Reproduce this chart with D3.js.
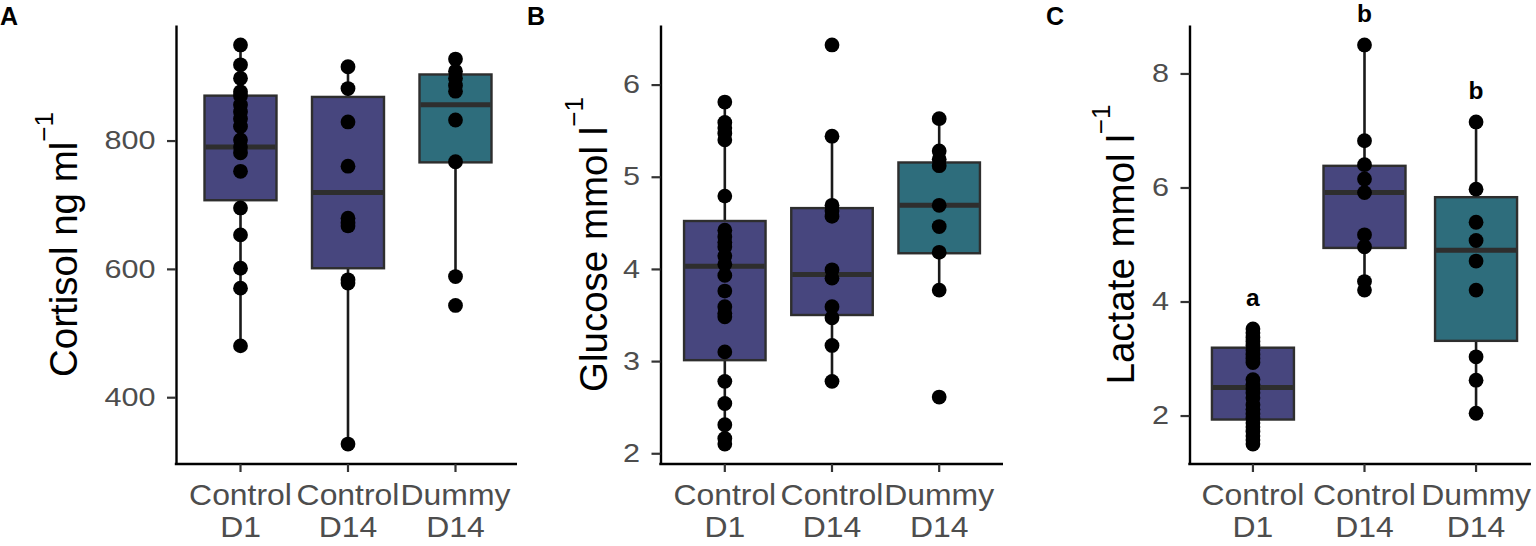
<!DOCTYPE html>
<html>
<head>
<meta charset="utf-8">
<script src="https://cdn.jsdelivr.net/npm/d3@7"></script>
<style>
  html, body { margin: 0; padding: 0; background: #fff; }
  svg { display: block; font-family: "Liberation Sans", Arial, Helvetica, sans-serif; }
</style>
</head>
<body>
<div id="chart"></div>
<script>
// groups (tick labels, two lines each)
const groupLine1 = ["Control", "Control", "Dummy"];
const groupLine2 = ["D1", "D14", "D14"];
const groupFill = ["#47467e", "#47467e", "#2e6d7c"];

// A: cortisol, ng/ml
const cortisolPoints = [
  [949, 918, 897, 876, 870, 856, 845, 834, 822, 801, 790, 781, 752, 695, 653, 601, 570, 480],
  [915, 881, 829, 760, 679, 672, 667, 583, 578, 327],
  [927, 908, 897, 886, 877, 832, 767, 588, 543]
];
const cortisolQ1 = [707, 601, 766];
const cortisolMedian = [790, 719, 856];
const cortisolQ3 = [870, 868, 903];
const cortisolLow = [480, 327, 588];
const cortisolHigh = [949, 915, 927];
const cortisolTicks = [400, 600, 800];

// B: glucose, mmol/l
const glucosePoints = [
  [5.81, 5.59, 5.53, 5.47, 5.40, 4.79, 4.42, 4.35, 4.29, 4.24, 4.14, 4.05, 3.93, 3.76, 3.59, 3.52, 3.48, 3.10, 2.78, 2.54, 2.31, 2.16, 2.10],
  [6.43, 5.44, 4.69, 4.63, 4.57, 3.99, 3.90, 3.59, 3.47, 3.17, 2.78],
  [5.63, 5.28, 5.19, 5.12, 4.69, 4.46, 4.18, 3.77, 2.61]
];
const glucoseQ1 = [3.01, 3.50, 4.17];
const glucoseMedian = [4.03, 3.94, 4.69];
const glucoseQ3 = [4.52, 4.66, 5.155];
const glucoseLow = [2.10, 2.78, 3.77];
const glucoseHigh = [5.81, 5.44, 5.63];
const glucoseTicks = [2, 3, 4, 5, 6];

// C: lactate, mmol/l
const lactatePoints = [
  [3.52, 3.45, 3.37, 3.30, 3.23, 3.15, 3.07, 3.00, 2.93, 2.63, 2.55, 2.47, 2.40, 2.31, 2.19, 2.11, 2.03, 1.95, 1.87, 1.80, 1.72, 1.64, 1.57, 1.50],
  [8.50, 6.82, 6.40, 6.15, 5.91, 5.17, 4.96, 4.35, 4.20],
  [7.15, 5.97, 5.39, 5.07, 4.71, 4.20, 3.03, 2.62, 2.04]
];
const lactateQ1 = [1.93, 4.94, 3.31];
const lactateMedian = [2.49, 5.91, 4.90];
const lactateQ3 = [3.19, 6.38, 5.83];
const lactateLow = [1.50, 4.20, 2.04];
const lactateHigh = [3.52, 8.50, 7.15];
const lactateTicks = [2, 4, 6, 8];
const lactateLetters = ["a", "b", "b"];

const W = 1536, H = 546;
const plotTop = 25, plotBottom = 464;

const svg = d3.select("#chart").append("svg")
    .attr("width", W)
    .attr("height", H);

const panels = [
  { tag: "A", tagX: 0, title: "Cortisol ng ml", titleX: 77,
    left: 176, right: 517, catRange: [176, 520], boxW: 72,
    points: cortisolPoints, q1: cortisolQ1, med: cortisolMedian, q3: cortisolQ3,
    lo: cortisolLow, hi: cortisolHigh, ticks: cortisolTicks },
  { tag: "B", tagX: 527, title: "Glucose mmol l", titleX: 607,
    left: 660.5, right: 1003, catRange: [660.5, 1003.5], boxW: 81.5,
    points: glucosePoints, q1: glucoseQ1, med: glucoseMedian, q3: glucoseQ3,
    lo: glucoseLow, hi: glucoseHigh, ticks: glucoseTicks },
  { tag: "C", tagX: 1046, title: "Lactate mmol l", titleX: 1134,
    left: 1189.5, right: 1531, catRange: [1186, 1543], boxW: 82,
    points: lactatePoints, q1: lactateQ1, med: lactateMedian, q3: lactateQ3,
    lo: lactateLow, hi: lactateHigh, ticks: lactateTicks, letters: lactateLetters }
];

panels.forEach(p => {
    const g = svg.append("g");

    // ggplot style 5% expansion around the data
    const all = p.points.flat();
    const [mn, mx] = d3.extent(all);
    const pad = (mx - mn) * 0.05;
    const y = d3.scaleLinear().domain([mn - pad, mx + pad]).range([plotBottom, plotTop]);
    const x = d3.scalePoint().domain(d3.range(3)).range(p.catRange).padding(0.6);

    const grp = g.selectAll(".grp")
        .data(d3.range(3))
        .join("g")
        .attr("class", "grp");

    // whiskers
    grp.append("line")
        .attr("x1", i => x(i)).attr("x2", i => x(i))
        .attr("y1", i => y(p.q3[i])).attr("y2", i => y(p.hi[i]))
        .attr("stroke", "#1a1a1a").attr("stroke-width", 2.6);
    grp.append("line")
        .attr("x1", i => x(i)).attr("x2", i => x(i))
        .attr("y1", i => y(p.q1[i])).attr("y2", i => y(p.lo[i]))
        .attr("stroke", "#1a1a1a").attr("stroke-width", 2.6);

    // boxes
    grp.append("rect")
        .attr("x", i => x(i) - p.boxW / 2)
        .attr("width", p.boxW)
        .attr("y", i => y(p.q3[i]))
        .attr("height", i => y(p.q1[i]) - y(p.q3[i]))
        .attr("fill", i => groupFill[i])
        .attr("stroke", "#2e2e2e")
        .attr("stroke-width", 2.4);

    // medians
    grp.append("line")
        .attr("x1", i => x(i) - p.boxW / 2 + 1)
        .attr("x2", i => x(i) + p.boxW / 2 - 1)
        .attr("y1", i => y(p.med[i])).attr("y2", i => y(p.med[i]))
        .attr("stroke", "#2e2e2e").attr("stroke-width", 5);

    // raw points
    grp.selectAll("circle")
        .data(i => p.points[i].map(v => ({ i, v })))
        .join("circle")
        .attr("cx", d => x(d.i))
        .attr("cy", d => y(d.v))
        .attr("r", 7.4)
        .attr("fill", "#000");

    // significance letters
    if (p.letters) {
        g.selectAll(".sig")
            .data(p.letters)
            .join("text")
            .attr("class", "sig")
            .attr("x", (_, i) => x(i))
            .attr("y", (_, i) => y(p.hi[i] + 0.4))
            .attr("text-anchor", "middle")
            .attr("font-size", 24.5)
            .attr("font-weight", "bold")
            .attr("fill", "#000")
            .text(d => d);
    }

    // y axis
    const ya = g.append("g")
        .attr("transform", `translate(${p.left},0)`)
        .call(d3.axisLeft(y).tickValues(p.ticks).tickFormat(d3.format("d"))
            .tickSize(9).tickSizeOuter(0).tickPadding(8));
    ya.attr("font-family", null).attr("font-size", null);
    ya.select(".domain").attr("stroke", "#000").attr("stroke-width", 2.4);
    ya.selectAll(".tick line").attr("stroke", "#333").attr("stroke-width", 2.2);
    ya.selectAll(".tick text")
        .attr("font-size", 25.5)
        .attr("fill", "#4d4d4d")
        .attr("transform", "scale(1.2,1)");

    // x axis
    g.append("line")
        .attr("x1", p.left - 1.2).attr("x2", p.right)
        .attr("y1", plotBottom).attr("y2", plotBottom)
        .attr("stroke", "#000").attr("stroke-width", 2.4);
    const xt = g.selectAll(".xt")
        .data(d3.range(3))
        .join("g")
        .attr("class", "xt")
        .attr("transform", i => `translate(${x(i)},${plotBottom})`);
    xt.append("line")
        .attr("y1", 0).attr("y2", 8)
        .attr("stroke", "#333").attr("stroke-width", 2.2);
    xt.append("text")
        .attr("y", 41)
        .attr("text-anchor", "middle")
        .attr("font-size", 29)
        .attr("fill", "#4d4d4d")
        .attr("transform", "scale(1.1,1)")
        .text(i => groupLine1[i]);
    xt.append("text")
        .attr("y", 73)
        .attr("text-anchor", "middle")
        .attr("font-size", 29)
        .attr("fill", "#4d4d4d")
        .attr("transform", "scale(1.1,1)")
        .text(i => groupLine2[i]);

    // y title with superscript
    const t = g.append("text")
        .attr("transform", `translate(${p.titleX},${(plotTop + plotBottom) / 2}) rotate(-90)`)
        .attr("text-anchor", "middle")
        .attr("font-size", 38.5)
        .attr("fill", "#000");
    t.append("tspan").text(p.title);
    t.append("tspan").attr("font-size", 26).attr("dy", -24).text("\u22121");

    // panel tag
    svg.append("text")
        .attr("x", p.tagX)
        .attr("y", 25)
        .attr("font-size", 25)
        .attr("font-weight", "bold")
        .attr("fill", "#000")
        .text(p.tag);
});
</script>
</body>
</html>
